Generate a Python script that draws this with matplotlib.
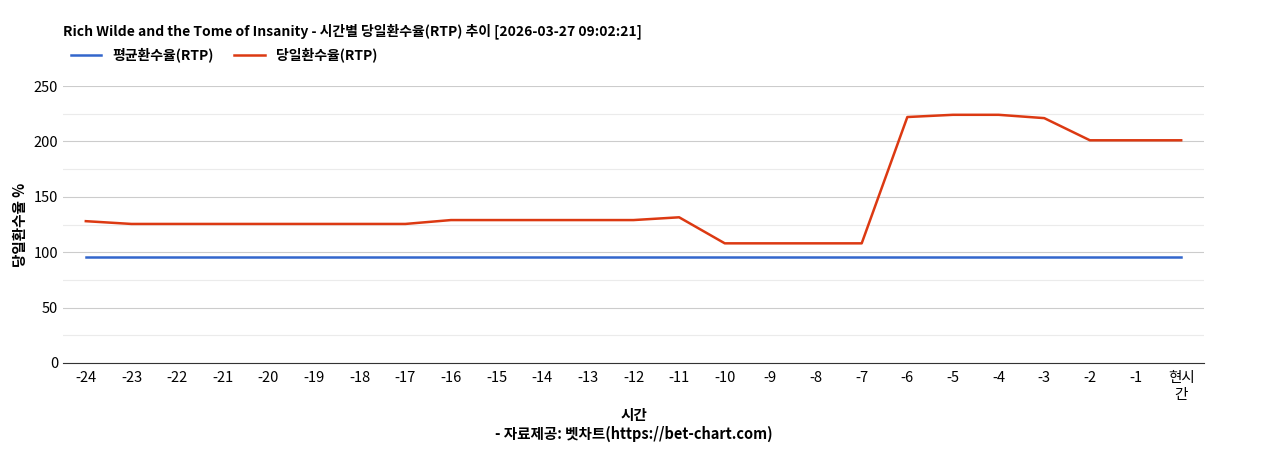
import matplotlib
matplotlib.use("Agg")
import matplotlib.pyplot as plt

plt.rcParams['font.family'] = ['Noto Sans CJK KR', 'DejaVu Sans']

labels = [str(i) for i in range(-24, 0)] + ["현시\n간"]
avg_rtp = [95.7] * 25
day_rtp = [128, 125.5, 125.5, 125.5, 125.5, 125.5, 125.5, 125.5, 129, 129, 129, 129, 129,
           131.5, 108, 108, 108, 108, 222, 224, 224, 221, 201, 201, 201]

fig = plt.figure(figsize=(12.68, 4.5), dpi=100)
ax = fig.add_axes([63/1268, 1-363/450, (1204-63)/1268, (363-86)/450])
x = range(len(labels))
ax.plot(x, avg_rtp, color="#3366cc", lw=1.8, label="평균환수율(RTP)")
ax.plot(x, day_rtp, color="#dc3912", lw=1.8, label="당일환수율(RTP)")
ax.set_ylim(0, 250)
ax.set_xlim(-0.5, len(labels) - 0.5)
ax.set_xticks(list(x))
ax.set_xticklabels(labels, fontsize=10.5)
ax.set_yticks(range(0, 251, 50))
ax.set_yticks(range(25, 250, 50), minor=True)
ax.tick_params(axis='y', labelsize=10.5, length=0)
ax.tick_params(axis='x', length=0, pad=6)
ax.tick_params(which='minor', length=0)
ax.grid(axis='y', which='major', color="#cccccc", lw=0.8)
ax.grid(axis='y', which='minor', color="#ebebeb", lw=0.8)
ax.set_axisbelow(True)
for s in ['top', 'right', 'left']:
    ax.spines[s].set_visible(False)
ax.spines['bottom'].set_color("#333333")
ax.set_ylabel("당일환수율 %", fontsize=10.5, fontweight='bold')
ax.set_xlabel("시간\n- 자료제공: 벳차트(https://bet-chart.com)", fontsize=10.5, fontweight='bold', labelpad=4)
fig.text(63/1268, 1-31/450, "Rich Wilde and the Tome of Insanity - 시간별 당일환수율(RTP) 추이 [2026-03-27 09:02:21]",
         fontsize=10, fontweight='bold', va='center')
ax.legend(loc='lower left', bbox_to_anchor=(0, 1.0 + (86-55)/277*0 + 0.02), ncol=2, frameon=False,
          prop={'weight': 'bold', 'size': 10}, handlelength=2.2, borderaxespad=0,
          bbox_transform=fig.transFigure) if False else fig.legend(
          *ax.get_legend_handles_labels(), loc='center left', bbox_to_anchor=(58/1268, 1-55/450),
          ncol=2, frameon=False, prop={'weight': 'bold', 'size': 10}, handlelength=2.2, columnspacing=1.5)
fig.savefig("out.png", dpi=100)
